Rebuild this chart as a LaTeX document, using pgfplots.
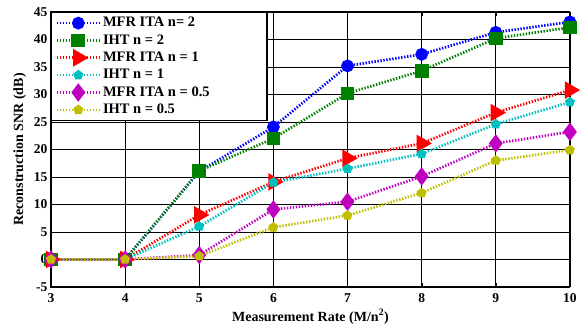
\documentclass[border=0pt]{standalone}
\usepackage{pgfplots}
\pgfplotsset{compat=1.18}
\usepackage{fontspec}
\setmainfont{Liberation Serif}
\definecolor{mgreen}{rgb}{0,0.5,0}
\definecolor{mcyan}{rgb}{0,0.75,0.75}
\definecolor{mmag}{rgb}{0.75,0,0.75}
\definecolor{myel}{rgb}{0.75,0.75,0}
\newcommand{\legtxt}[1]{\makebox[158pt][l]{#1}}
\begin{document}
\bfseries\fontsize{13}{15}\selectfont
\begin{tikzpicture}
\begin{axis}[
  name=ax,
  scale only axis,
  width=519pt, height=275pt,
  xmin=3, xmax=10, ymin=-5, ymax=45,
  xtick={3,...,10}, ytick={-5,0,...,45},
  grid=major,
  grid style={black, line width=0.8pt},
  axis line style={black, line width=1.1pt},
  tick style={black},
  tick align=inside,
  /pgf/number format/assume math mode=true,
  tick label style={font=\bfseries\fontsize{13.5}{15}\selectfont},
  xticklabel style={yshift=-2pt},
  yticklabel style={xshift=1pt},
  xlabel={Measurement Rate (M/n\textsuperscript{2})},
  ylabel={Reconstruction SNR (dB)},
  label style={font=\bfseries\fontsize{14}{16}\selectfont},
  xlabel style={yshift=2pt},
  ylabel style={yshift=-1pt},
  legend style={at={(0,1)}, anchor=north west, draw=black, line width=1.3pt,
    font=\bfseries\fontsize{14.5}{16}\selectfont,
    nodes={font=\bfseries\fontsize{14.5}{16}\selectfont, inner ysep=1.2pt},
    row sep=3.4pt, inner xsep=4pt, inner ysep=3.5pt,
    cells={anchor=west}},
  legend cell align=left,
  legend image code/.code={\draw[mark repeat=2,mark phase=2] plot coordinates {(0cm,0cm) (0.75cm,0cm) (1.5cm,0cm)};},
  every axis plot/.append style={line width=2.7pt, dash pattern=on 1.4pt off 1.6pt},
]
\addplot[blue, mark=*, mark size=5pt, mark options={solid}] coordinates {(3,0) (4,0) (5,16) (6,24.1) (7,35.2) (8,37.3) (9,41.3) (10,43.2)};
\addlegendentry{\legtxt{MFR ITA n= 2}}
\addplot[mgreen, mark=square*, mark size=5.5pt, mark options={solid}] coordinates {(3,0) (4,0) (5,16.1) (6,22) (7,30.2) (8,34.3) (9,40.2) (10,42.2)};
\addlegendentry{\legtxt{IHT n = 2}}
\addplot[red, mark=triangle*, mark size=7.5pt, mark options={solid, rotate=-90}] coordinates {(3,0) (4,0) (5,8.1) (6,14.1) (7,18.4) (8,21.1) (9,26.7) (10,30.8)};
\addlegendentry{\legtxt{MFR ITA n = 1}}
\addplot[mcyan, mark=pentagon*, mark size=3.6pt, mark options={solid}] coordinates {(3,0) (4,0) (5,6) (6,14) (7,16.5) (8,19.2) (9,24.6) (10,28.6)};
\addlegendentry{\legtxt{IHT n = 1}}
\addplot[mmag, mark=diamond*, mark size=7pt, mark options={solid}] coordinates {(3,0) (4,0) (5,0.8) (6,9.1) (7,10.5) (8,15.1) (9,21.1) (10,23.2)};
\addlegendentry{\legtxt{MFR ITA n = 0.5}}
\addplot[myel, mark=pentagon*, mark size=3.6pt, mark options={solid}] coordinates {(3,0) (4,0) (5,0.6) (6,5.85) (7,8) (8,12.1) (9,18) (10,19.9)};
\addlegendentry{\legtxt{IHT n = 0.5}}
\end{axis}
\path ([xshift=-51pt,yshift=-41pt]ax.south west) ([xshift=11pt,yshift=12pt]ax.north east);
\end{tikzpicture}
\end{document}
